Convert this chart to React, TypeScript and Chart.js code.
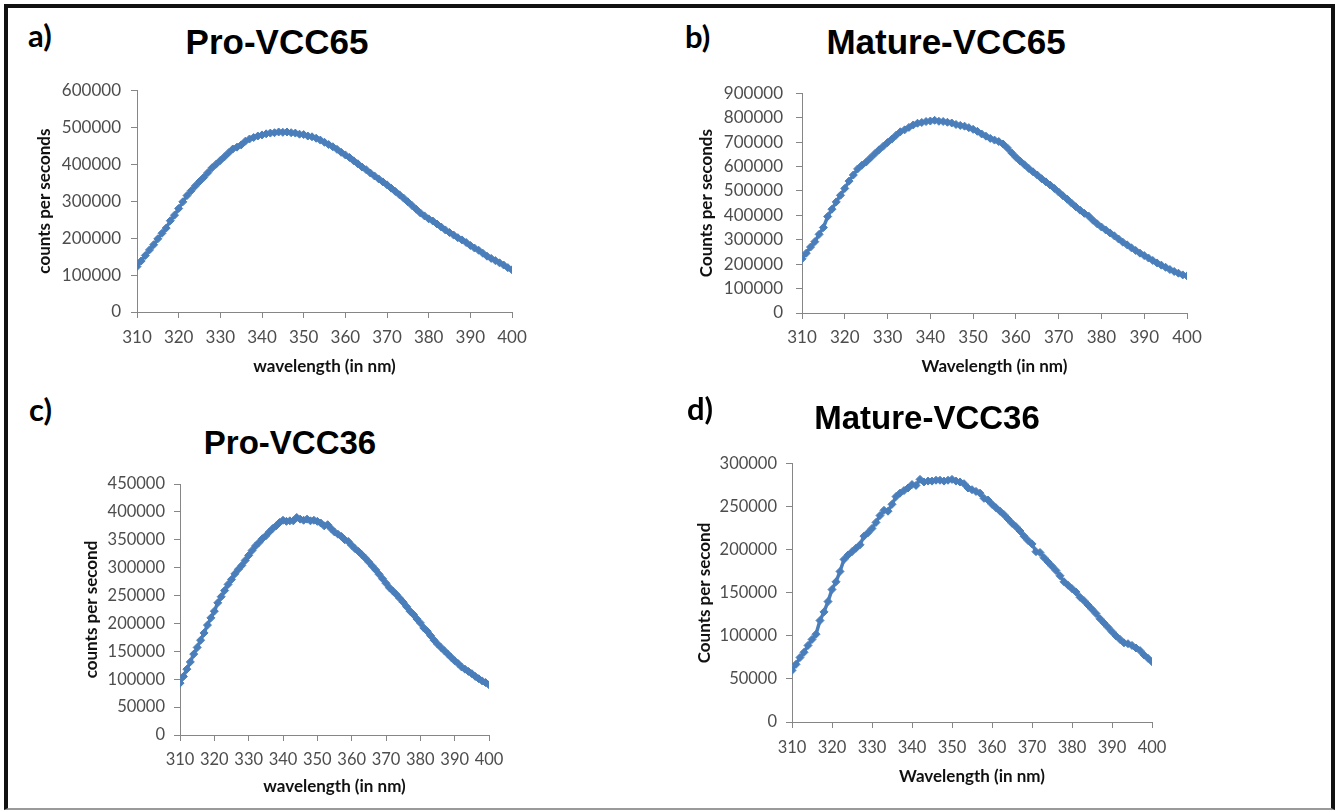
import React, { useEffect, useRef } from "react";
import { Chart, registerables } from "chart.js";

Chart.register(...registerables);

// ---------- DATA ----------
const wavelengths = [
  310, 311, 312, 313, 314, 315, 316, 317, 318, 319,
  320, 321, 322, 323, 324, 325, 326, 327, 328, 329,
  330, 331, 332, 333, 334, 335, 336, 337, 338, 339,
  340, 341, 342, 343, 344, 345, 346, 347, 348, 349,
  350, 351, 352, 353, 354, 355, 356, 357, 358, 359,
  360, 361, 362, 363, 364, 365, 366, 367, 368, 369,
  370, 371, 372, 373, 374, 375, 376, 377, 378, 379,
  380, 381, 382, 383, 384, 385, 386, 387, 388, 389,
  390, 391, 392, 393, 394, 395, 396, 397, 398, 399,
  400,
];

const proVCC65 = [
  123000, 138000, 153000, 168000, 182000, 198000, 213000, 227000, 247000, 262000,
  280000, 298000, 315000, 328000, 341000, 353000, 364000, 377000, 390000, 400000,
  410000, 420000, 431000, 441000, 446000, 452000, 462000, 468000, 472000, 476000,
  479000, 482000, 484000, 485000, 487000, 486000, 487000, 485000, 484000, 481000,
  480000, 476000, 474000, 470000, 465000, 459000, 453000, 447000, 440000, 432000,
  425000, 418000, 409000, 401000, 392000, 385000, 376000, 368000, 360000, 352000,
  344000, 335000, 326000, 317000, 308000, 298000, 288000, 278000, 268000, 260000,
  252000, 246000, 238000, 230000, 222000, 215000, 208000, 201000, 195000, 188000,
  180000, 173000, 167000, 159000, 151000, 145000, 139000, 133000, 127000, 120000,
  114000,
];

const matureVCC65 = [
  222000, 245000, 270000, 292000, 322000, 350000, 395000, 425000, 455000, 482000,
  510000, 540000, 565000, 590000, 605000, 618000, 635000, 652000, 668000, 683000,
  698000, 712000, 728000, 742000, 750000, 760000, 770000, 777000, 780000, 784000,
  786000, 789000, 785000, 784000, 781000, 778000, 772000, 768000, 765000, 759000,
  752000, 744000, 733000, 724000, 715000, 708000, 702000, 692000, 676000, 656000,
  638000, 622000, 607000, 592000, 578000, 565000, 550000, 537000, 524000, 510000,
  495000, 480000, 466000, 450000, 435000, 421000, 408000, 397000, 380000, 365000,
  352000, 340000, 328000, 316000, 303000, 290000, 279000, 267000, 256000, 245000,
  235000, 225000, 215000, 205000, 196000, 187000, 178000, 170000, 163000, 156000,
  152000,
];

const proVCC36 = [
  93000, 105000, 118000, 131000, 145000, 157000, 170000, 183000, 197000, 210000,
  222000, 237000, 248000, 259000, 270000, 279000, 289000, 297000, 304000, 313000,
  322000, 331000, 339000, 345000, 352000, 357000, 364000, 370000, 375000, 381000,
  385000, 383000, 384000, 384000, 390000, 387000, 385000, 387000, 384000, 385000,
  383000, 380000, 375000, 377000, 370000, 364000, 360000, 356000, 350000, 347000,
  340000, 334000, 329000, 323000, 317000, 310000, 303000, 296000, 288000, 280000,
  272000, 264000, 258000, 252000, 245000, 238000, 230000, 222000, 216000, 208000,
  201000, 192000, 186000, 178000, 170000, 163000, 157000, 151000, 145000, 139000,
  133000, 128000, 122000, 118000, 114000, 110000, 105000, 101000, 97000, 94000,
  90000,
];

const matureVCC36 = [
  60000, 67000, 75000, 81000, 89000, 96000, 102000, 118000, 128000, 140000,
  154000, 163000, 175000, 189000, 194000, 198000, 202000, 206000, 216000, 220000,
  225000, 232000, 240000, 246000, 245000, 253000, 262000, 266000, 269000, 272000,
  276000, 275000, 282000, 279000, 280000, 280000, 281000, 281000, 280000, 281000,
  282000, 280000, 279000, 277000, 272000, 270000, 268000, 266000, 260000, 258000,
  253000, 249000, 245000, 241000, 236000, 231000, 227000, 222000, 216000, 211000,
  207000, 198000, 197000, 191000, 186000, 181000, 176000, 170000, 163000, 159000,
  155000, 151000, 145000, 141000, 136000, 131000, 126000, 120000, 115000, 110000,
  105000, 100000, 96000, 92000, 91000, 89000, 86000, 83000, 78000, 74000,
  70000,
];

const xRange = [310, 400];
const xStep = 10;
const yMaxA = 600000;
const yStepA = 100000;
const yMaxB = 900000;
const yStepB = 100000;
const yMaxC = 450000;
const yStepC = 50000;
const yMaxD = 300000;
const yStepD = 50000;

// ---------- LAYOUT ----------
type Rect = { l: number; t: number; w: number; h: number };
type Plot = { l: number; t: number; r: number; b: number };

type PanelCfg = {
  id: string;
  label: string;
  labelPos: [number, number]; // left, baseline
  title: string;
  titleSize: number;
  titleCenter: [number, number]; // x center, cap center y
  values: number[];
  yMax: number;
  yStep: number;
  yTitle: string;
  xTitle: string;
  canvas: Rect;
  plot: Plot;
  yTitleX: number;
  xTitleY: number;
  xTickY: number;
  yTickRight: number;
  tickSize: number;
};

const panels: PanelCfg[] = [
  {
    id: "a",
    label: "a)",
    labelPos: [28, 47],
    title: "Pro-VCC65",
    titleSize: 35,
    titleCenter: [277, 41],
    values: proVCC65,
    yMax: yMaxA,
    yStep: yStepA,
    yTitle: "counts per seconds",
    xTitle: "wavelength (in nm)",
    canvas: { l: 20, t: 70, w: 520, h: 320 },
    plot: { l: 137, t: 85, r: 512, b: 312 },
    yTitleX: 45,
    xTitleY: 367,
    xTickY: 338,
    yTickRight: 121,
    tickSize: 17,
  },
  {
    id: "b",
    label: "b)",
    labelPos: [685, 48],
    title: "Mature-VCC65",
    titleSize: 35,
    titleCenter: [946, 41],
    values: matureVCC65,
    yMax: yMaxB,
    yStep: yStepB,
    yTitle: "Counts per seconds",
    xTitle: "Wavelength (in nm)",
    canvas: { l: 680, t: 70, w: 540, h: 320 },
    plot: { l: 802, t: 85, r: 1187, b: 313 },
    yTitleX: 707,
    xTitleY: 367,
    xTickY: 338,
    yTickRight: 783,
    tickSize: 17,
  },
  {
    id: "c",
    label: "c)",
    labelPos: [29, 421],
    title: "Pro-VCC36",
    titleSize: 33,
    titleCenter: [290, 442],
    values: proVCC36,
    yMax: yMaxC,
    yStep: yStepC,
    yTitle: "counts per second",
    xTitle: "wavelength (in nm)",
    canvas: { l: 60, t: 465, w: 460, h: 340 },
    plot: { l: 180, t: 484, r: 489, b: 735 },
    yTitleX: 92,
    xTitleY: 787,
    xTickY: 760,
    yTickRight: 165,
    tickSize: 16.5,
  },
  {
    id: "d",
    label: "d)",
    labelPos: [687, 420],
    title: "Mature-VCC36",
    titleSize: 33,
    titleCenter: [927, 417],
    values: matureVCC36,
    yMax: yMaxD,
    yStep: yStepD,
    yTitle: "Counts per second",
    xTitle: "Wavelength (in nm)",
    canvas: { l: 680, t: 445, w: 510, h: 355 },
    plot: { l: 792, t: 461, r: 1152, b: 722 },
    yTitleX: 705,
    xTitleY: 777,
    xTickY: 748,
    yTickRight: 777,
    tickSize: 16.5,
  },
];

const SERIES_COLOR = "#4A7EBB";
const AXIS_COLOR = "#868686";
const TICK_COLOR = "#4d4d4d";
const TICK_LEN = 6;
const AXIS_TITLE_SIZE = 17;
const LH = 1.2;

function Panel({ cfg }: { cfg: PanelCfg }) {
  const ref = useRef<HTMLCanvasElement | null>(null);

  useEffect(() => {
    if (!ref.current) return;
    const { canvas, plot } = cfg;
    const canvasBottom = canvas.t + canvas.h;
    const canvasRight = canvas.l + canvas.w;
    const titleLH = AXIS_TITLE_SIZE * LH;
    const tickLH = cfg.tickSize * LH;

    const chart = new Chart(ref.current, {
      type: "scatter",
      data: {
        datasets: [
          {
            data: wavelengths.map((w, i) => ({ x: w, y: cfg.values[i] })),
            showLine: true,
            borderColor: SERIES_COLOR,
            borderWidth: 3.5,
            backgroundColor: SERIES_COLOR,
            pointStyle: "rectRot",
            pointRadius: 4,
            pointBorderWidth: 1,
            pointBorderColor: SERIES_COLOR,
            pointBackgroundColor: SERIES_COLOR,
            tension: 0,
          },
        ],
      },
      options: {
        animation: false,
        responsive: false,
        maintainAspectRatio: false,
        events: [],
        layout: {
          padding: {
            top: plot.t - canvas.t,
            right: canvasRight - plot.r,
            left: 0,
            bottom: 0,
          },
        },
        plugins: {
          legend: { display: false },
          tooltip: { enabled: false },
          title: { display: false },
        },
        scales: {
          x: {
            type: "linear",
            min: xRange[0],
            max: xRange[1],
            ticks: {
              stepSize: xStep,
              autoSkip: false,
              maxRotation: 0,
              color: TICK_COLOR,
              padding: cfg.xTickY - plot.b - TICK_LEN - tickLH / 2,
              font: { family: "Lato", size: cfg.tickSize, lineHeight: LH },
              callback: (v: any) => String(v),
            },
            grid: {
              drawOnChartArea: false,
              drawTicks: true,
              tickLength: TICK_LEN,
              color: AXIS_COLOR,
            },
            border: { display: true, color: AXIS_COLOR, width: 1 },
            title: {
              display: true,
              text: cfg.xTitle,
              color: "#111",
              font: { family: "Lato", weight: "bold", size: AXIS_TITLE_SIZE, lineHeight: LH },
              padding: { top: 0, bottom: canvasBottom - cfg.xTitleY - titleLH / 2 },
            },
            afterFit: (s: any) => {
              s.height = canvasBottom - plot.b;
            },
          },
          y: {
            type: "linear",
            min: 0,
            max: cfg.yMax,
            ticks: {
              stepSize: cfg.yStep,
              color: TICK_COLOR,
              padding: plot.l - TICK_LEN - cfg.yTickRight,
              font: { family: "Lato", size: cfg.tickSize, lineHeight: LH },
              callback: (v: any) => String(v),
            },
            grid: {
              drawOnChartArea: false,
              drawTicks: true,
              tickLength: TICK_LEN,
              color: AXIS_COLOR,
            },
            border: { display: true, color: AXIS_COLOR, width: 1 },
            title: {
              display: true,
              text: cfg.yTitle,
              color: "#111",
              font: { family: "Lato", weight: "bold", size: AXIS_TITLE_SIZE, lineHeight: LH },
              padding: { top: cfg.yTitleX - canvas.l - titleLH / 2, bottom: 0 },
            },
            afterFit: (s: any) => {
              s.width = plot.l - canvas.l;
            },
          },
        },
      } as any,
    });
    return () => chart.destroy();
  }, [cfg]);

  const { canvas } = cfg;
  // title: Liberation Sans bold, line-height 1 -> cap centre ~ top + 0.49em
  const titleTop = cfg.titleCenter[1] - cfg.titleSize * 0.49;
  // label: Lato bold, line-height 1 -> baseline ~ top + 0.887em
  const labelSize = 31;
  const labelTop = cfg.labelPos[1] - labelSize * 0.887;

  return (
    <>
      <div
        style={{
          position: "absolute",
          left: cfg.labelPos[0],
          top: labelTop,
          fontFamily: "Lato, sans-serif",
          fontWeight: 700,
          fontSize: labelSize,
          lineHeight: 1,
          color: "#000",
          whiteSpace: "nowrap",
        }}
      >
        {cfg.label}
      </div>
      <div
        style={{
          position: "absolute",
          left: cfg.titleCenter[0] - 250,
          width: 500,
          top: titleTop,
          textAlign: "center",
          fontFamily: "'Liberation Sans', Arial, sans-serif",
          fontWeight: 700,
          fontSize: cfg.titleSize,
          lineHeight: 1,
          color: "#000",
          whiteSpace: "nowrap",
        }}
      >
        {cfg.title}
      </div>
      <canvas
        ref={ref}
        width={canvas.w}
        height={canvas.h}
        style={{
          position: "absolute",
          left: canvas.l,
          top: canvas.t,
          width: canvas.w,
          height: canvas.h,
        }}
      />
    </>
  );
}

export default function App() {
  return (
    <div
      style={{
        position: "absolute",
        left: 0,
        top: 0,
        width: 1341,
        height: 811,
        background: "#fff",
        overflow: "hidden",
      }}
    >
      <div
        style={{
          position: "absolute",
          left: 4,
          top: 4,
          width: 1323,
          height: 800,
          borderLeft: "4px solid #111",
          borderTop: "4px solid #111",
          borderRight: "4px solid #111",
          borderBottom: "2px solid #9a9a9a",
        }}
      />
      {panels.map((p) => (
        <Panel key={p.id} cfg={p} />
      ))}
    </div>
  );
}
